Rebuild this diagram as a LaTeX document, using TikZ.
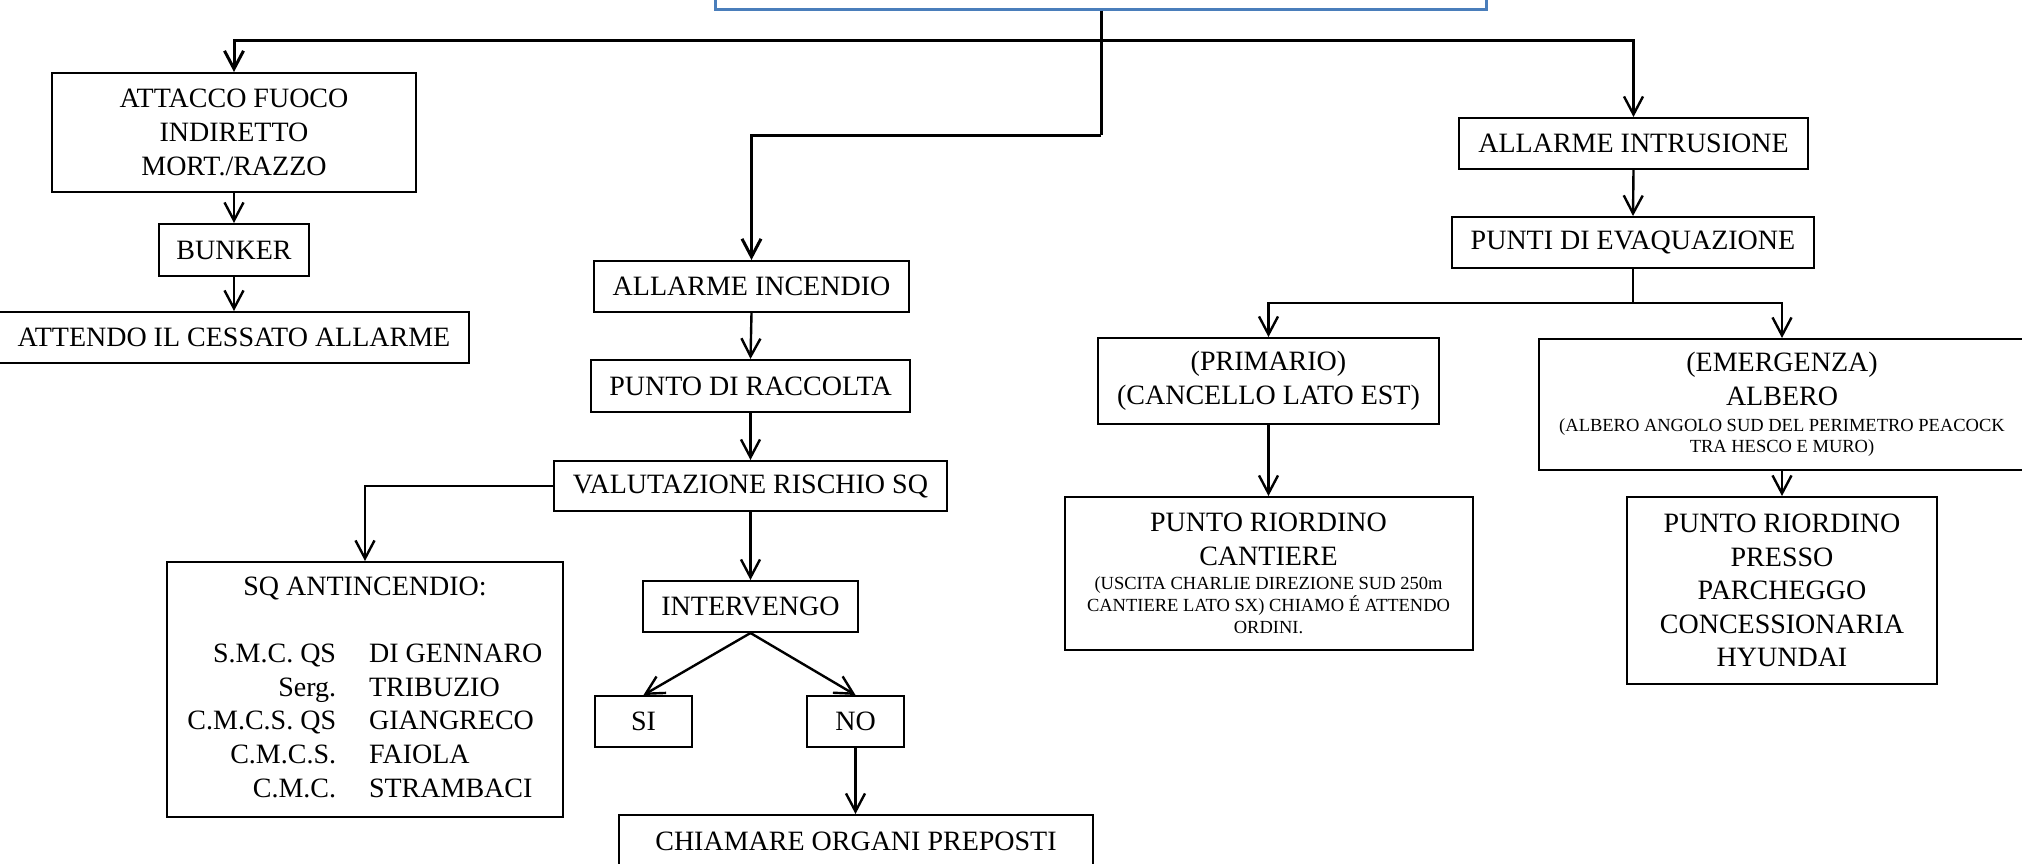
\documentclass[tikz,border=0pt]{standalone}
\usepackage{fontspec}
\setmainfont{Liberation Serif}
\usetikzlibrary{arrows.meta}
\definecolor{boxblue}{RGB}{74,126,187}
\newcommand\bigf{\fontsize{28}{33.6}\selectfont}
\newcommand\smallf{\fontsize{18.5}{22}\selectfont}
\begin{document}
\begin{tikzpicture}[x=1pt,y=-1pt,
 box/.style={draw, line width=2pt, inner sep=0pt, align=center, font=\bigf},
 conn/.style={line width=2.4pt},
 thickconn/.style={line width=3pt},
 arr/.style={line width=2.4pt, -{Straight Barb[length=18pt,width=19pt]}},
]
\useasboundingbox (0,0) rectangle (2022,863);
\fill[white] (0,0) rectangle (2022,863);
\clip (0,0) rectangle (2022,863);
% top (cut off) box
\node[box, draw=boxblue, line width=2.2pt, minimum width=771pt, minimum height=59.5pt] (top) at (1101,-20.25) {};
% left column
\node[box, minimum width=364pt, minimum height=119pt] (att) at (234,132.5) {ATTACCO FUOCO\\INDIRETTO\\MORT./RAZZO};
\node[box, minimum width=150pt, minimum height=52pt] (bun) at (234,250) {BUNKER};
\node[box, minimum width=470pt, minimum height=51pt] (att2) at (234,337.5) {ATTENDO IL CESSATO ALLARME};
% middle column
\node[box, minimum width=315pt, minimum height=51pt] (ai) at (751.5,286.5) {ALLARME INCENDIO};
\node[box, minimum width=319pt, minimum height=52pt] (pr) at (750.5,386) {PUNTO DI RACCOLTA};
\node[box, minimum width=393pt, minimum height=50pt] (val) at (750.5,486) {VALUTAZIONE RISCHIO SQ};
\node[box, minimum width=396pt, minimum height=255pt] (sq) at (365,689.5) {\renewcommand{\arraystretch}{1}%
\begin{tabular}{@{}r@{\hspace{33pt}}l@{}}
\multicolumn{2}{c}{SQ ANTINCENDIO:}\\[33.6pt]
S.M.C. QS & DI GENNARO\\
Serg. & TRIBUZIO\\
C.M.C.S. QS & GIANGRECO\\
C.M.C.S. & FAIOLA\\
C.M.C. & STRAMBACI
\end{tabular}};
\node[box, minimum width=215pt, minimum height=51pt] (int) at (750.5,606.5) {INTERVENGO};
\node[box, minimum width=97pt, minimum height=51pt] (si) at (643.5,721.5) {SI};
\node[box, minimum width=97pt, minimum height=51pt] (no) at (855.5,721.5) {NO};
\node[box, minimum width=474pt, minimum height=52pt] (chi) at (856,841) {CHIAMARE ORGANI PREPOSTI};
% right column
\node[box, minimum width=349pt, minimum height=51pt] (ain) at (1633.5,143.5) {ALLARME INTRUSIONE};
\node[box, minimum width=362pt, minimum height=51pt] (pde) at (1633,242.5) {PUNTI DI EVAQUAZIONE};
\node[box, minimum width=341pt, minimum height=86pt] (prim) at (1268.5,381) {(PRIMARIO)\\(CANCELLO LATO EST)};
\node[box, minimum width=486pt, minimum height=131pt] (emer) at (1782,404.5) {(EMERGENZA)\\ALBERO\\[-8pt]{\smallf (ALBERO ANGOLO SUD DEL PERIMETRO PEACOCK}\\[-12pt]{\smallf TRA HESCO E MURO)}};
\node[box, minimum width=408pt, minimum height=153pt] (can) at (1268.5,573.5) {PUNTO RIORDINO\\CANTIERE\\[-9pt]{\smallf (USCITA CHARLIE DIREZIONE SUD 250m}\\[-11.6pt]{\smallf CANTIERE LATO SX) CHIAMO É ATTENDO}\\[-11.6pt]{\smallf ORDINI.}};
\node[box, minimum width=310pt, minimum height=187pt] (pre) at (1782,590.5) {PUNTO RIORDINO\\PRESSO\\PARCHEGGO\\CONCESSIONARIA\\HYUNDAI};
% connectors
\coordinate (bus) at (1101,40.5);
\coordinate (j1) at (1101,135);
\coordinate (j2) at (1633,302.7);
\draw[thickconn] (top.south) -- (j1);
\draw[arr, line width=3pt] (j1) -| (ai.north);
\draw[arr, line width=3pt] (bus) -| (att.north);
\draw[arr] (bus) -| (ain.north);
\draw[arr] (att.south) -- (bun.north);
\draw[arr] (bun.south) -- (att2.north);
\draw[arr] (ai.south) -- (pr.north);
\draw[arr] (pr.south) -- (val.north);
\draw[arr] (val.south) -- (int.north);
\draw[arr] (val.west) -| (sq.north);
\draw[arr] (int.south) -- (si.north);
\draw[arr] (int.south) -- (no.north);
\draw[arr] (no.south) -- (no.south |- chi.north);
\draw[arr] (ain.south) -- (pde.north);
\draw[conn] (pde.south) -- (j2);
\draw[arr] (j2) -| (prim.north);
\draw[arr] (j2) -| (emer.north);
\draw[arr] (prim.south) -- (can.north);
\draw[arr] (emer.south) -- (pre.north);
\end{tikzpicture}
\end{document}
